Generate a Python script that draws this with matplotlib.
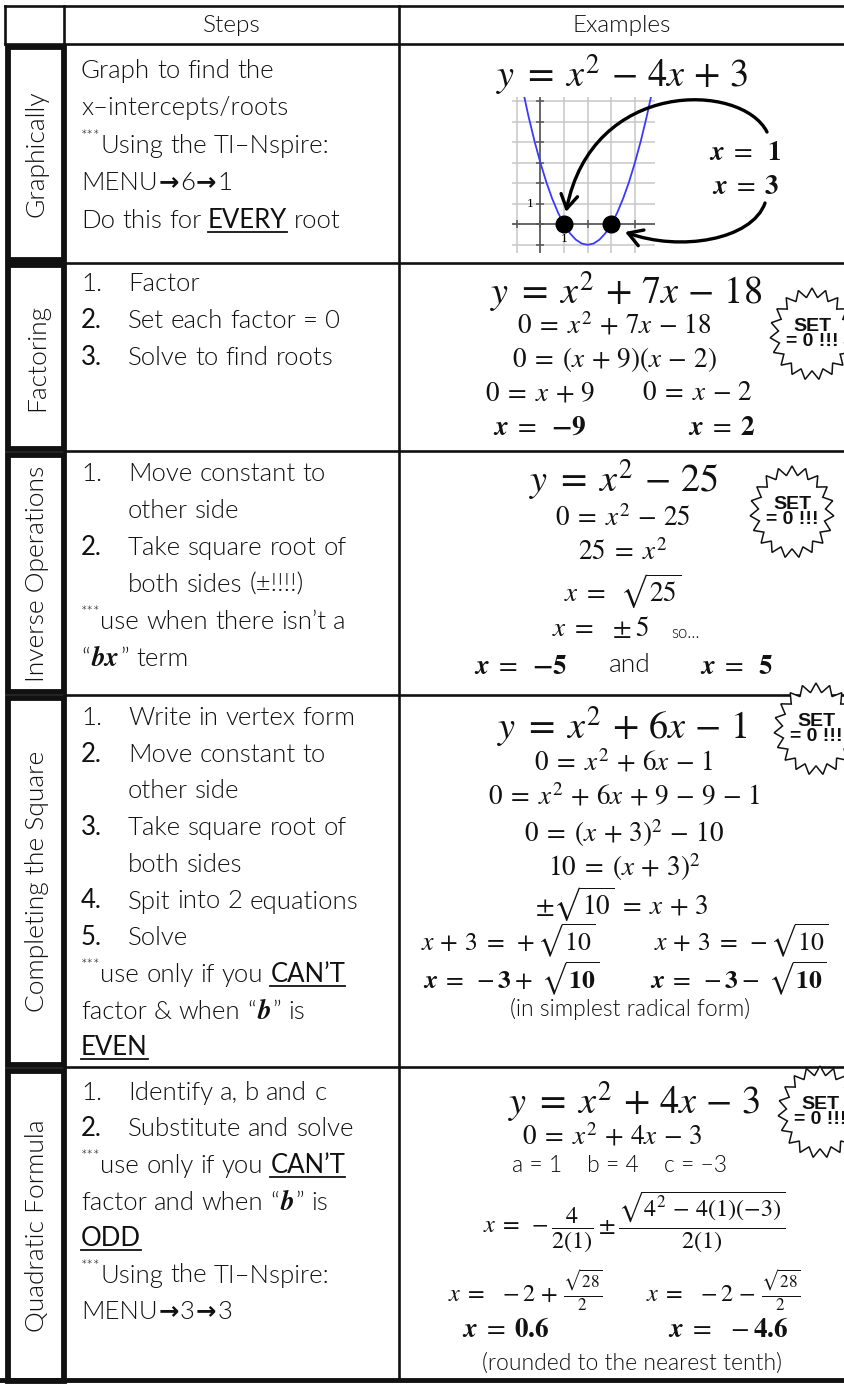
import re
import numpy as np
import matplotlib as mpl
mpl.use('agg')
import matplotlib.pyplot as plt
from matplotlib.patches import Rectangle, Polygon, FancyArrowPatch
from matplotlib.path import Path

plt.rcParams['mathtext.fontset'] = 'stix'

W, H = 845, 1384
TXT = 'Lato'
INK = '#111111'

# ---- content -------------------------------------------------------------
headers = ['Steps', 'Examples']
row_labels = ['Graphically', 'Factoring', 'Inverse Operations',
              'Completing the Square', 'Quadratic Formula']

# (number, text) ; '>' = indented continuation line
steps = [
    [('', 'Graph to find the'),
     ('', 'x–intercepts/roots'),
     ('', '***Using the TI–Nspire:'),
     ('', 'MENU→6→1'),
     ('', 'Do this for _EVERY_ root')],
    [('1.', 'Factor'),
     ('2.', 'Set each factor = 0'),
     ('3.', 'Solve to find roots')],
    [('1.', 'Move constant to'),
     ('>', 'other side'),
     ('2.', 'Take square root of'),
     ('>', 'both sides (±!!!!)'),
     ('', '***use when there isn’t a'),
     ('', '“{bx}” term')],
    [('1.', 'Write in vertex form'),
     ('2.', 'Move constant to'),
     ('>', 'other side'),
     ('3.', 'Take square root of'),
     ('>', 'both sides'),
     ('4.', 'Spit into 2 equations'),
     ('5.', 'Solve'),
     ('', '***use only if you _CAN’T_'),
     ('', 'factor & when “{b}” is'),
     ('', '_EVEN_')],
    [('1.', 'Identify a, b and c'),
     ('2.', 'Substitute and solve'),
     ('', '***use only if you _CAN’T_'),
     ('', 'factor and when “{b}” is'),
     ('', '_ODD_'),
     ('', '***Using the TI–Nspire:'),
     ('', 'MENU→3→3')],
]

# worked examples (mathtext unless plain words)
ex_graph = [r'$y = x^2 - 4x + 3$', r'$\mathbfit{x} =\ \mathbf{1}$', r'$\mathbfit{x} = \mathbf{3}$']
ex_factor = [r'$y = x^2 + 7x - 18$', r'$0 = x^2 + 7x - 18$', r'$0 = (x + 9)(x - 2)$',
             r'$0 = x + 9$', r'$0 = x - 2$',
             r'$\mathbfit{x} =\ \mathbf{-9}$', r'$\mathbfit{x} = \mathbf{2}$']
ex_inverse = [r'$y = x^2 - 25$', r'$0 = x^2 - 25$', r'$25 = x^2$', r'$x =\ \sqrt{25}$',
              r'$x =\ \pm 5$', 'so…',
              r'$\mathbfit{x} =\ \mathbf{-5}$', 'and', r'$\mathbfit{x} =\ \mathbf{5}$']
ex_complete = [r'$y = x^2 + 6x - 1$', r'$0 = x^2 + 6x - 1$', r'$0 = x^2 + 6x + 9 - 9 - 1$',
               r'$0 = (x + 3)^2 - 10$', r'$10 = (x + 3)^2$', r'$\pm\sqrt{10} = x + 3$',
               r'$x + 3 = +\sqrt{10}$', r'$x + 3 = -\sqrt{10}$',
               r'$\mathbfit{x} = -\mathbf{3} +\ \sqrt{\mathbf{10}}$',
               r'$\mathbfit{x} = -\mathbf{3} -\ \sqrt{\mathbf{10}}$',
               '(in simplest radical form)']
ex_quad = [r'$y = x^2 + 4x - 3$', r'$0 = x^2 + 4x - 3$', 'a = 1    b = 4    c = −3',
           r'$x = -\dfrac{4}{2(1)} \pm \dfrac{\sqrt{4^2 - 4(1)(-3)}}{2(1)}$',
           r'$x =\ -2 + \frac{\sqrt{28}}{2}$', r'$x =\ -2 - \frac{\sqrt{28}}{2}$',
           r'$\mathbfit{x} = \mathbf{0.6}$', r'$\mathbfit{x} =\ -\mathbf{4.6}$',
           '(rounded to the nearest tenth)']
star_text = 'SET\n= 0 !!!'

# parabola y = x^2 - 4x + 3
parab_x = [-0.8, -0.5, -0.25, 0, 0.25, 0.5, 0.75, 1, 1.25, 1.5, 1.75, 2,
           2.25, 2.5, 2.75, 3, 3.25, 3.5, 3.75, 4, 4.25, 4.5, 4.8]
parab_y = [6.84, 5.25, 4.06, 3, 2.06, 1.25, 0.56, 0, -0.44, -0.75, -0.94, -1,
           -0.94, -0.75, -0.44, 0, 0.56, 1.25, 2.06, 3, 4.06, 5.25, 6.84]
roots = [1, 3]

# ---- layout (pixels) -----------------------------------------------------
row_edges = [44, 263, 451, 695, 1067, 1380]
box_tops = [47, 265, 455, 698, 1071]
box_bots = [260, 449, 692, 1065, 1381]
first_line = [70, 283, 473, 717, 1092]
line_gap = [37.5, 37, 37, 36.7, 36.5]
STEP_PT = 18.5

fig = plt.figure(figsize=(W / 100, H / 100), dpi=100)
ax = fig.add_axes([0, 0, 1, 1])
ax.set_xlim(0, W)
ax.set_ylim(H, 0)
ax.axis('off')
renderer = fig.canvas.get_renderer()


def width_of(t):
    return t.get_window_extent(renderer).width


def measure(s, **kw):
    t = ax.text(0, 0, s, **kw)
    w = width_of(t)
    t.remove()
    return w


light = dict(family=TXT, fontweight=300, color=INK)
dark = dict(family=TXT, fontweight='normal', color=INK)
space_w = measure('n n', fontsize=STEP_PT, **light) - measure('nn', fontsize=STEP_PT, **light)
TOKEN = re.compile(r'(\*\*\*|_[^_]+_|\{[^}]+\}|→| )')


def draw_runs(x, y, text, size=STEP_PT):
    for tok in TOKEN.split(text):
        if tok == '':
            continue
        if tok == ' ':
            x += space_w
            continue
        if tok == '***':
            t = ax.text(x, y - 0.45 * size * 100 / 72, '***', fontsize=size * 0.6,
                        va='baseline', **light)
        elif tok.startswith('_'):
            t = ax.text(x, y, tok[1:-1], fontsize=size, va='baseline', **dark)
            ax.plot([x, x + width_of(t)], [y + 4, y + 4], color=INK, lw=1.3)
        elif tok.startswith('{'):
            t = ax.text(x + 1, y, r'$\mathbfit{%s}$' % tok[1:-1], fontsize=size * 1.05,
                        va='baseline', color=INK)
        elif tok == '→':
            t = ax.text(x + 1, y - 1, '→', fontsize=size * 0.95, va='baseline',
                        family='DejaVu Sans', fontweight='bold', color=INK)
        else:
            t = ax.text(x, y, tok, fontsize=size, va='baseline', **light)
        x += width_of(t) + (2 if tok == '→' or tok.startswith('{') else 0)


# ---- table lines ---------------------------------------------------------
lw_thin = 1.9
ax.plot([5, W], [5.5, 5.5], color=INK, lw=lw_thin)
ax.plot([5, W], [row_edges[0], row_edges[0]], color=INK, lw=lw_thin)
ax.plot([5.5, 5.5], [5.5, row_edges[0]], color=INK, lw=lw_thin)
ax.plot([64, 64], [5.5, row_edges[0]], color=INK, lw=lw_thin)
ax.plot([399, 399], [5.5, row_edges[-1]], color=INK, lw=lw_thin)
for yv in row_edges[1:-1]:
    ax.plot([64, W], [yv, yv], color=INK, lw=lw_thin)
ax.plot([0, W], [row_edges[-1], row_edges[-1]], color=INK, lw=3.5)

for top, bot, lab in zip(box_tops, box_bots, row_labels):
    ax.add_patch(Rectangle((8.5, top), 56, bot - top, fill=False, ec=INK, lw=4.2))
    ax.text(37, (top + bot) / 2, lab, rotation=90, ha='center', va='center',
            fontsize=19, **light)

ax.text(232, 25, headers[0], ha='center', va='center', fontsize=17.5, **light)
ax.text(622, 25, headers[1], ha='center', va='center', fontsize=17.5, **light)

# ---- steps column --------------------------------------------------------
NUM_X, TXT_X = 81, 128
for r, lines in enumerate(steps):
    for i, (num, text) in enumerate(lines):
        yb = first_line[r] + i * line_gap[r] + 8
        if num == '>':
            draw_runs(TXT_X, yb, text)
        elif num:
            kw = light if num == '1.' else dark
            ax.text(NUM_X, yb, num, fontsize=STEP_PT, va='baseline', **kw)
            draw_runs(TXT_X, yb, text)
        else:
            draw_runs(NUM_X, yb, text)


# ---- examples column -----------------------------------------------------
def spaced(s):
    # widen relations/operators like the Cambria Math original
    if not s.startswith('$'):
        return s
    s = re.sub(r'\s*=\s*', r'\\;=\\;', s)
    return re.sub(r' ([+-]) ', r'\\,\1\\,', s)


def mt(x, y, s, size=19, **kw):
    opts = dict(ha='center', va='center', fontsize=size, color=INK)
    opts.update(kw)
    ax.text(x, y, spaced(s), **opts)


BIG = 27.5
SM = 19.5

# row 1
mt(622, 75, ex_graph[0], BIG)
mt(745, 153, ex_graph[1], 19.5)
mt(745, 187, ex_graph[2], 19.5)

# row 2
mt(626, 292, ex_factor[0], BIG)
mt(614, 326, ex_factor[1], SM)
mt(614, 359, ex_factor[2], SM)
mt(540, 393, ex_factor[3], SM)
mt(697, 393, ex_factor[4], SM)
mt(540, 428, ex_factor[5], SM)
mt(722, 428, ex_factor[6], SM)

# row 3
mt(624, 480, ex_inverse[0], BIG)
mt(623, 519, ex_inverse[1], SM)
mt(623, 553, ex_inverse[2], SM)
mt(623, 591, ex_inverse[3], SM)
mt(600, 629, ex_inverse[4], SM)
mt(686, 633, ex_inverse[5], 12, **light)
mt(521, 667, ex_inverse[6], SM)
mt(630, 665, ex_inverse[7], 19, **light)
mt(737, 667, ex_inverse[8], SM)

# row 4
mt(622, 727, ex_complete[0], BIG)
mt(624, 763, ex_complete[1], SM)
mt(624, 797, ex_complete[2], SM)
mt(624, 833, ex_complete[3], SM)
mt(624, 867, ex_complete[4], SM)
mt(622, 904, ex_complete[5], SM)
mt(508, 941, ex_complete[6], 18.5)
mt(741, 941, ex_complete[7], 18.5)
mt(511, 979, ex_complete[8], 18.5)
mt(738, 979, ex_complete[9], 18.5)
mt(630, 1009, ex_complete[10], 16.5, **light)

# row 5
mt(634, 1102, ex_quad[0], BIG)
mt(612, 1137, ex_quad[1], SM)
mt(620, 1166, ex_quad[2], 16.5, **light)
mt(634, 1222, ex_quad[3], 17.5)
mt(525, 1290, ex_quad[4], 17.5)
mt(723, 1290, ex_quad[5], 17.5)
mt(506, 1330, ex_quad[6], SM)
mt(728, 1330, ex_quad[7], SM)
mt(632, 1363, ex_quad[8], 16.5, **light)


# ---- "SET = 0 !!!" bursts --------------------------------------------------
def burst(cx, cy, rx=42, ry=46, n=19):
    ang = np.linspace(0, 2 * np.pi, 2 * n, endpoint=False) + np.pi / 2
    rad = np.where(np.arange(2 * n) % 2 == 0, 1.0, 0.8)
    pts = np.column_stack([cx + rx * rad * np.cos(ang), cy - ry * rad * np.sin(ang)])
    ax.add_patch(Polygon(pts, closed=True, fc='white', ec=INK, lw=1.1, zorder=4))
    ax.text(cx, cy, star_text, ha='center', va='center', fontsize=14,
            family='Liberation Sans', fontweight='bold', linespacing=0.82,
            color=INK, zorder=5)


for cx, cy in [(812, 334), (792, 512), (816, 729), (820, 1112)]:
    burst(cx, cy)

# ---- small graph ---------------------------------------------------------
gx0, gx1, gy0, gy1 = 512, 655, 97, 253
axg = fig.add_axes([gx0 / W, 1 - gy1 / H, (gx1 - gx0) / W, (gy1 - gy0) / H])
axg.patch.set_alpha(0)
axg.set_xlim(-1.2, 4.85)
axg.set_ylim(-1.4, 6.2)
axg.set_xticks(range(-1, 5))
axg.set_yticks(range(-1, 7))
axg.grid(True, color='#c8c8c8', lw=1.1)
axg.tick_params(length=0, labelbottom=False, labelleft=False)
for s in axg.spines.values():
    s.set_visible(False)
axg.axhline(0, color='#555555', lw=1.2)
axg.axvline(0, color='#555555', lw=1.2)
axg.plot(range(-1, 5), [0] * 6, '|', color='#555555', ms=6, mew=1.1)
axg.plot([0] * 8, range(-1, 7), '_', color='#555555', ms=6, mew=1.1)
axg.text(-0.3, 1, '1', ha='right', va='center', fontsize=8, family='DejaVu Serif')
axg.text(1, -0.45, '1', ha='center', va='top', fontsize=8, family='DejaVu Serif')
axg.plot(parab_x, parab_y, color='#3a3aff', lw=1.3)
axg.plot(roots, [0] * len(roots), 'o', color='black', ms=12, clip_on=False, zorder=6)

# curved arrows from the answers to the roots, drawn above the graph
arrow_kw = dict(arrowstyle='->,head_length=0.5,head_width=0.3', mutation_scale=20,
                lw=2.4, color='black', zorder=7, transform=ax.transData)
p1 = Path([(767, 132), (742, 82), (592, 78), (566, 212)],
          [Path.MOVETO, Path.CURVE4, Path.CURVE4, Path.CURVE4])
p2 = Path([(765, 203), (752, 240), (680, 252), (625, 232)],
          [Path.MOVETO, Path.CURVE4, Path.CURVE4, Path.CURVE4])
for p in (p1, p2):
    fig.add_artist(FancyArrowPatch(path=p, **arrow_kw))

fig.savefig('out.png', dpi=100)
